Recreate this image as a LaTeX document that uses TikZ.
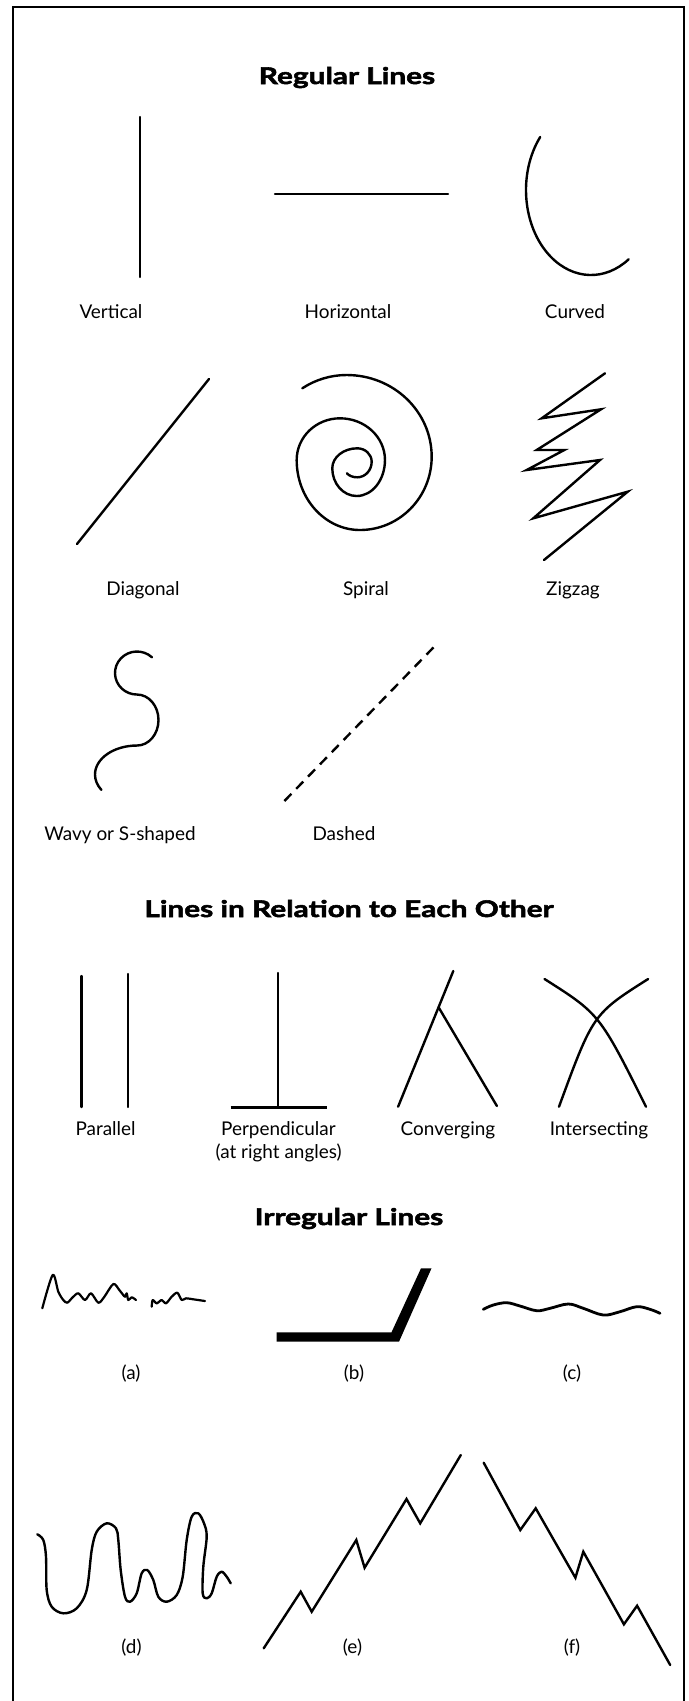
\documentclass[tikz,border=0pt]{standalone}
\usepackage{fontspec}
\setmainfont{Lato}
\newfontfamily\headfont{Lato}[FakeStretch=1.3, BoldFeatures={FakeBold=2.4}]
\usetikzlibrary{positioning}

\begin{document}
\begin{tikzpicture}[
      x=1bp, y=-1bp,
      heading/.style = {font=\headfont\bfseries\fontsize{23}{27}\selectfont,
        anchor=base, inner sep=0pt},
      caption/.style = {font=\fontsize{19}{23}\selectfont,
        anchor=base, inner sep=0pt},
      stroke/.style  = {line width=2.4bp, line cap=round, line join=round},
      sketch/.style  = {line width=2.2bp, line cap=round, line join=round},
      frame/.style   = {line width=2bp}
    ]

  \useasboundingbox (0,0) rectangle (689,1701);

  % ===================== Frame =====================
  \draw[frame] (12.5,1701) -- (12.5,6.5) -- (684,6.5) -- (684,1701);

  % ===================== Regular lines =====================
  \node[heading] (regular) at (347,84) {Regular Lines};

  \draw[stroke] (140,117) -- (140,277);
  \draw[stroke] (275,194) -- (448,194);
  \draw[stroke] (540.2,137) arc[start angle=218.6, end angle=54.6,
    x radius=65, y radius=85];

  \node[caption] (vert)  at (111,318) {Vertical};
  \node[caption] (horiz) at (348,318) {Horizontal};
  \node[caption] (curv)  at (575,318) {Curved};

  \draw[stroke] (77,544) -- (209,379);
  % spiral, built from quarter ellipses
  \draw[stroke] (302.3,388.3)
    arc[start angle=-123.5, end angle=-90, x radius=80.4, y radius=80]
    arc[start angle=-90, end angle=0, x radius=85, y radius=81.7]
    arc[start angle=0, end angle=90, x radius=71.7, y radius=73.3]
    arc[start angle=90, end angle=180, x radius=63.3, y radius=70]
    arc[start angle=180, end angle=270, x radius=43.3, y radius=41.7]
    arc[start angle=270, end angle=360, x radius=45, y radius=41.7]
    arc[start angle=0, end angle=90, x radius=28.3, y radius=36]
    arc[start angle=90, end angle=180, x radius=24.4, y radius=27.7]
    arc[start angle=180, end angle=270, x radius=25, y radius=20]
    arc[start angle=270, end angle=360, x radius=14.4, y radius=13.4]
    arc[start angle=0, end angle=90, x radius=14.4, y radius=15.6]
    arc[start angle=90, end angle=150, x radius=12, y radius=8];
  % zigzag
  \draw[stroke, line join=miter] (605,373.3) -- (541.7,418.3) -- (601,409.3)
    -- (536.7,450) -- (564.3,450) -- (526.7,470) -- (600,460) -- (533.3,518.3)
    -- (627.7,491.7) -- (544,560);

  \node[caption] (diag)   at (143,595) {Diagonal};
  \node[caption] (spiral) at (366,595) {Spiral};
  \node[caption] (zigzag) at (573,595) {Zigzag};

  % S-shape
  \draw[stroke] (152,657.3)
    arc[start angle=-47, end angle=-270, x radius=22, y radius=21.5]
    arc[start angle=-90, end angle=90, x radius=21.5, y radius=25.5]
    arc[start angle=-90, end angle=-212, x radius=42, y radius=29];
  \draw[stroke, line cap=butt, dash pattern=on 10bp off 7bp] (284.4,801) -- (436.5,644.3);

  \node[caption] (wavy)   at (120,840) {Wavy or S-shaped};
  \node[caption] (dashed) at (344,840) {Dashed};

  % ===================== Lines in relation =====================
  \node[heading] (relation) at (349,917) {Lines in Relation to Each Other};

  \draw[stroke] (81.6,976) -- (81.6,1107);
  \draw[stroke] (127.9,974) -- (127.9,1107);

  \draw[stroke] (278.2,973) -- (278.2,1107);
  \draw[stroke, line width=3bp, line cap=butt] (230.6,1107.5) -- (326.7,1107.5);

  \draw[stroke] (398.1,1106.7) -- (453.3,971);
  \draw[stroke] (438.6,1007.3) -- (496.9,1106);

  \draw[stroke] (544.5,979) .. controls (599.6,1014) .. (646,1106.7);
  \draw[stroke] (648.1,979) .. controls (593,1014) .. (559,1106.7);

  \node[caption] (para)     at (105.6,1135) {Parallel};
  \node[caption] (perp)     at (278.4,1135) {Perpendicular};
  \node[caption] (perpnote) at (278.6,1158.5) {(at right angles)};
  \node[caption] (conv)     at (448,1135) {Converging};
  \node[caption] (inter)    at (599,1135) {Intersecting};

  % ===================== Irregular lines =====================
  \node[heading] (irregular) at (349,1225) {Irregular Lines};

  % (a)
  \draw[sketch] plot[smooth, tension=0.5] coordinates {(42.3,1308.3) (52.7,1275)
    (58.3,1291.7) (63.3,1300) (67.3,1302.7) (72.7,1297.3) (78.3,1293.3) (85,1300)
    (91,1293.3) (98.3,1302.7) (104,1297.3) (113.3,1284) (119.3,1290) (122.7,1294.3)
    (125,1296.7) (126.7,1293.3) (128.3,1300) (131.7,1297.3) (136,1300)};
  \draw[sketch] plot[smooth, tension=0.5] coordinates {(151.7,1306.7) (152.7,1300)
    (156.7,1303.3) (161.7,1300) (166,1303.3) (171.7,1296.7) (177.3,1292.7)
    (181.7,1300) (186,1298.3) (193.3,1299.3) (205,1301)};
  % (b)
  \fill (276.5,1332.3) -- (391.5,1332.3) -- (421,1268.3) -- (431.5,1268.3)
    -- (399,1341.7) -- (276.5,1341.7) -- cycle;
  % (c)
  \draw[stroke, line width=2.8bp] plot[smooth, tension=0.6] coordinates {(483.3,1309.3)
    (493.3,1305) (506.7,1302.7) (520,1306) (536.7,1310.7) (550,1308.3) (568.3,1304)
    (583.3,1308.3) (603.3,1315) (620,1311.7) (636.7,1306.7) (650,1309.3) (660,1313.3)};

  \node[caption] (capa) at (131,1379) {(a)};
  \node[caption] (capb) at (354,1379) {(b)};
  \node[caption] (capc) at (572,1379) {(c)};

  % (d)
  \draw[stroke] plot[smooth, tension=0.55] coordinates {(37.3,1534.3) (43.3,1540)
    (46,1556.7) (46.7,1590) (51.7,1606.7) (63.3,1613.3) (76.7,1608.3) (86.7,1590)
    (91.7,1550) (96.7,1531.7) (106.7,1523.3) (116,1528.3) (118.3,1540) (120.7,1570)
    (125,1596.7) (130,1601.7) (136.7,1593.3) (141.7,1573.3) (147.3,1570)
    (153.3,1580) (158.3,1596.7) (166.7,1601.7) (176.7,1595) (182.7,1576.7)
    (186.7,1540) (191.7,1516.7) (198.3,1513.3) (204,1523.3) (206.7,1536.7)
    (203.3,1566.7) (202.7,1593.3) (206.7,1598.3) (211.7,1593.3) (216.7,1576.7)
    (221.7,1571.7) (226.7,1576.7) (230.7,1583.3)};
  % (e)
  \draw[stroke, line join=miter] (263.7,1648.3) -- (300.7,1591.7) -- (311.7,1611.7)
    -- (356.3,1540) -- (364.6,1567.7) -- (406.5,1499) -- (420.2,1523.3) -- (460.8,1455);
  % (f)
  \draw[stroke, line join=miter] (483.7,1462.7) -- (520.3,1530) -- (535.7,1508.3)
    -- (575.4,1577.7) -- (583.3,1551.7) -- (623.9,1624.3) -- (637.1,1605.7) -- (670.2,1665);

  \node[caption] (capd) at (131.5,1653) {(d)};
  \node[caption] (cape) at (352.5,1653) {(e)};
  \node[caption] (capf) at (572,1653) {(f)};

\end{tikzpicture}
\end{document}
